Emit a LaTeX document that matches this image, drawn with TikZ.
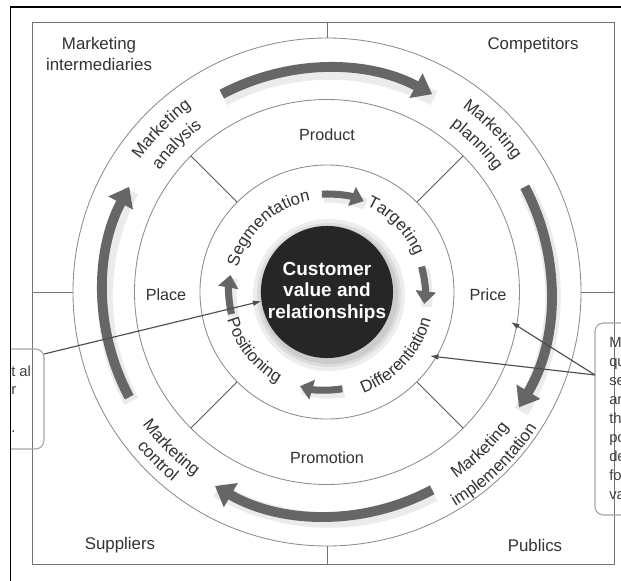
\documentclass[tikz,border=0pt]{standalone}
\usepackage{fontspec}
\setmainfont{Liberation Sans}
\usetikzlibrary{
    arrows.meta,
    decorations.text,
    positioning
}
\tikzset{ring/.style={draw=black!45, line width=0.6pt}}
\tikzset{spoke/.style={draw=black!65, line width=0.7pt}}
\tikzset{frameline/.style={draw=black!55, line width=0.7pt}}
\tikzset{quadlbl/.style={text=black!80, font=\fontsize{12}{15}\selectfont, align=center}}
\tikzset{mixlbl/.style={text=black!80, font=\fontsize{11.5}{14}\selectfont}}
\tikzset{core/.style={circle, fill=black!85, minimum size=3.3cm, inner sep=0pt, text=white,
    font=\fontsize{13.5}{15.2}\selectfont\bfseries, align=center}}
\tikzset{bigarrow/.style={draw=black!60, line width=7pt, -{Triangle[length=13pt, width=19pt]}}}
\tikzset{smallarrow/.style={draw=black!60, line width=5pt, -{Triangle[length=9pt, width=14pt]}}}
\tikzset{haze/.style={draw=black, opacity=0.08}}
\tikzset{pointer/.style={draw=black!70, line width=0.8pt, -{Latex[length=6pt, width=4pt]}}}
\tikzset{callout/.style={draw=black!35, line width=0.8pt, rounded corners=6pt}}
\tikzset{cutlbl/.style={text=black!75, font=\fontsize{10.5}{13}\selectfont, anchor=base west, inner sep=0pt}}

% text bent along a circle: radius, from angle, to angle, text
\newcommand{\arctext}[4]{%
    \path[decorate, decoration={text along path, text align=center, text color=black!80,
        text={|\fontsize{12}{14}\selectfont|#4}}] (#2:#1) arc (#2:#3:#1);}

\begin{document}
\begin{tikzpicture}[x=0.025cm, y=0.025cm]
    \useasboundingbox (-327, -289) rectangle (294, 292);
    \fill[white] (-327, -289) rectangle (294, 292);

    % environment frame and its four corners
    \draw[frameline] (-294.5, -272) rectangle (287, 269.5);
    \draw[frameline]
    (0, 254) -- (0, 269.5)
    (0, -254) -- (0, -272)
    (-254, 0) -- (-294.5, 0)
    (254, 0) -- (287, 0);

    % rings
    \draw[ring] (0, 0) circle (254) (0, 0) circle (192.5) (0, 0) circle (127);
    \foreach \a in {45, 135, 225, 315}
        \draw[spoke] (\a:127) -- (\a:192.5);

    % management cycle arrows
    \foreach \s/\e in {118/62, 28/-31, -62/-120, 208/152} {
        \draw[haze, line width=11pt] ([shift={(2,-4)}]\s:224) arc (\s:\e:224);
        \draw[bigarrow] (\s:224) arc (\s:\e:224);
    }

    % strategy arrows
    \foreach \s/\e in {93/68, 15/-7, -81/-106, 193/170} {
        \draw[haze, line width=8pt] ([shift={(2,-3)}]\s:98) arc (\s:\e:98);
        \draw[smallarrow] (\s:98) arc (\s:\e:98);
    }

    % core
    \foreach \r in {76, 72, 69}
        \fill[black, opacity=0.07] (2, -3) circle (\r);
    \node[core] (core) at (0, 0) {Customer\\value and\\relationships};

    \node[quadlbl] (intermed) at (-228, 238) {Marketing\\intermediaries};
    \node[quadlbl] (compet) at (206, 247) {Competitors};
    \node[quadlbl] (suppl) at (-207, -253) {Suppliers};
    \node[quadlbl] (publics) at (208, -253) {Publics};

    \node[mixlbl] (product) at (0, 157) {Product};
    \node[mixlbl] (price) at (161, -3) {Price};
    \node[mixlbl] (place) at (-161, -3) {Place};
    \node[mixlbl] (promo) at (0, -166) {Promotion};

    \arctext{92.5}{175}{90}{Segmentation}
    \arctext{95}{74}{14}{Targeting}
    \arctext{107.5}{-85}{0}{Differentiation}
    \arctext{103.5}{190}{247}{Positioning}

    \arctext{229}{160}{111}{Marketing}
    \arctext{207}{160}{111}{analysis}
    \arctext{229}{69}{20}{Marketing}
    \arctext{207}{69}{20}{planning}
    \arctext{227}{-76}{-16}{Marketing}
    \arctext{250}{-76}{-16}{implementation}
    \arctext{227}{195}{255}{Marketing}
    \arctext{245}{195}{255}{control}

    % callouts
    \begin{scope}
        \clip (-316.5, -300) rectangle (300, 285);
        \draw[callout] (-420, -57) rectangle (-283, -157);
        \draw[callout] (268, -31) rectangle (420, -223);
        \node[cutlbl] (lcut1) at (-316, -84) {t al};
        \node[cutlbl] (lcut2) at (-316, -102) {r};
        \node[cutlbl] (lcut3) at (-316, -140) {.};
        \foreach \t [count=\i] in {M, qu, se, an, th, po, de, fo, va}
            \node[cutlbl] (rcut\i) at (282, -36-19*\i) {\t};
    \end{scope}

    \coordinate (lcorner) at (-283, -62);
    \coordinate (rfoot) at (268, -83);
    \coordinate (pricept) at (184, -30);
    \coordinate (diffpt) at (103, -64);
    \draw[pointer] (lcorner) -- (core.188);
    \draw[pointer] (rfoot) -- (pricept);
    \draw[pointer] (rfoot) -- (diffpt);

    % page border
    \draw[line width=1.4pt] (-316.5, -295) -- (-316.5, 285) -- (300, 285);
\end{tikzpicture}
\end{document}
